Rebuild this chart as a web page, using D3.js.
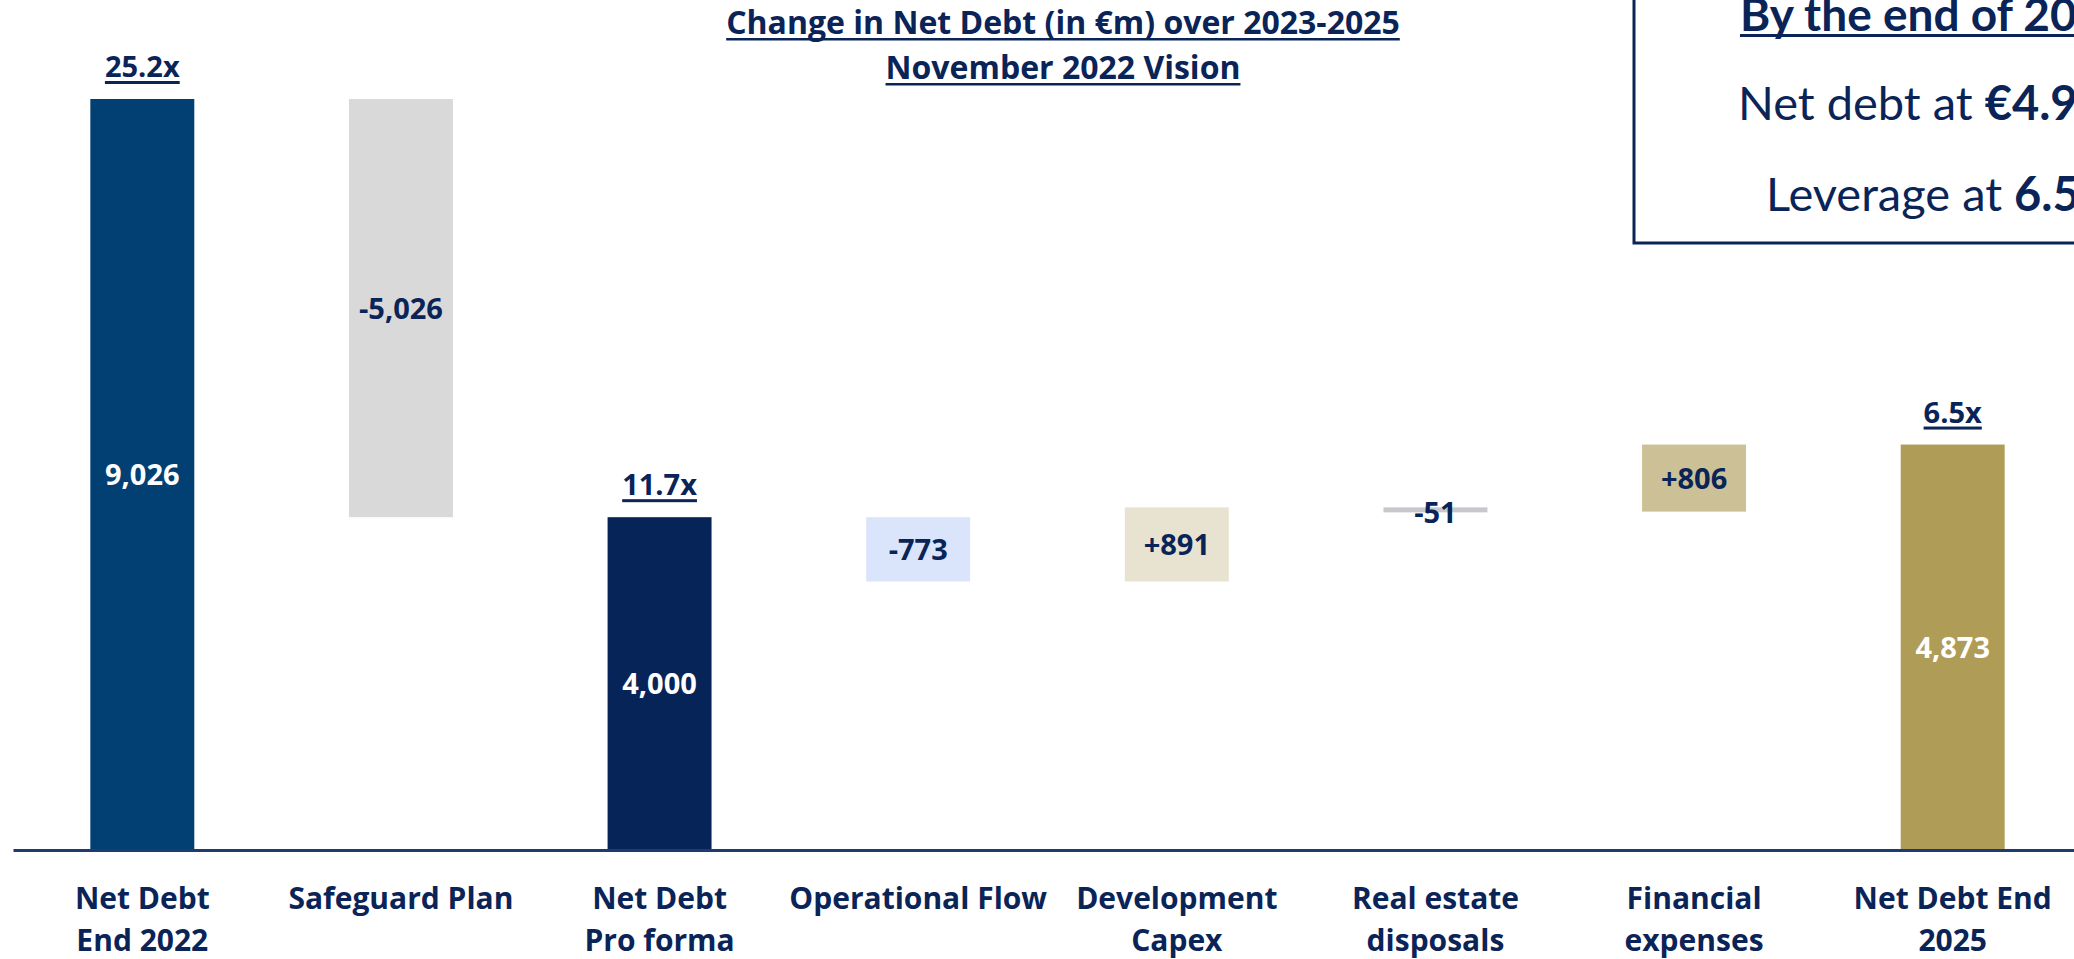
<!DOCTYPE html>
<html>
<head>
<meta charset="utf-8">
<script src="https://cdn.jsdelivr.net/npm/d3@7"></script>
<style>
  body { margin: 0; background: #fff; overflow: hidden; }
  svg { display: block; }
  .cond { font-family: 'Open Sans', sans-serif; font-weight: bold; }
  .box-text { font-family: Lato, 'Noto Sans', sans-serif; }
</style>
</head>
<body>
<svg id="chart" width="2074" height="959"></svg>
<script>
// waterfall steps, €m
var categories = [
  'Net Debt|End 2022', 'Safeguard Plan', 'Net Debt|Pro forma', 'Operational Flow',
  'Development|Capex', 'Real estate|disposals', 'Financial|expenses', 'Net Debt End|2025'
];
var values = [9026, -5026, 4000, -773, 891, -51, 806, 4873];
var isTotal = [true, false, true, false, false, false, false, true];
var leverage = ['25.2x', null, '11.7x', null, null, null, null, '6.5x'];

var titleLines = ['Change in Net Debt (in €m) over 2023-2025', 'November 2022 Vision'];
var boxLines = ['By the end of 2025', 'Net debt at ', '€4.9bn', 'Leverage at ', '6.5x'];

var barColors = ['#024073', '#d9d9d9', '#072458', '#dae5fb', '#e8e3d1', '#c8c8cc', '#ccc196', '#af9c57'];
var labelColors = ['#fff', '#0a2458', '#fff', '#0a2458', '#0a2458', '#0a2458', '#0a2458', '#fff'];
var navy = '#0a2458';

var width = 2074;
var height = 959;
var axisY = 850;

var loc = d3.formatLocale({decimal: '.', thousands: ',', grouping: [3], currency: ['', ''], minus: '-'});
var fmtTotal = loc.format(',');
var fmtDelta = loc.format('+,');

// running totals -> [lo, hi] for every bar
var running = 0;
var steps = values.map(function(v, i) {
  var s;
  if (isTotal[i]) {
    running = v;
    s = {lo: 0, hi: v};
  } else {
    s = {lo: Math.min(running, running + v), hi: Math.max(running, running + v)};
    running += v;
  }
  s.i = i;
  s.value = v;
  s.label = isTotal[i] ? fmtTotal(v) : fmtDelta(v);
  s.lev = leverage[i];
  return s;
});

var svg = d3.select('#chart');

// thick underline drawn under a text node
function underline(sel, offset, thick) {
  sel.each(function() {
    var t = d3.select(this);
    var w = this.getComputedTextLength();
    var anchor = t.attr('text-anchor') || 'start';
    var x0 = +t.attr('x');
    if (anchor === 'middle') x0 -= w / 2;
    d3.select(this.parentNode).append('rect')
      .attr('x', x0)
      .attr('y', +t.attr('y') + offset)
      .attr('width', w)
      .attr('height', thick)
      .attr('fill', t.attr('fill'));
  });
}

var x = d3.scaleBand()
    .domain(d3.range(categories.length))
    .range([13, 2082])
    .paddingInner(0.598)
    .paddingOuter(0.299);

var y = d3.scaleLinear()
    .domain([0, 9026])
    .range([axisY, 99]);

var bars = svg.append('g').selectAll('g')
  .data(steps)
  .enter().append('g');

bars.append('rect')
    .attr('x', function(d) { return x(d.i); })
    .attr('width', x.bandwidth())
    .attr('y', function(d) { return y(d.hi); })
    .attr('height', function(d) { return Math.max(y(d.lo) - y(d.hi), 5); })
    .attr('fill', function(d) { return barColors[d.i]; });

bars.append('text')
    .attr('class', 'cond')
    .attr('x', function(d) { return x(d.i) + x.bandwidth() / 2; })
    .attr('y', function(d) { return (y(d.lo) + y(d.hi)) / 2 + (d.i === 5 ? 3 : 0); })
    .attr('dy', '0.36em')
    .attr('text-anchor', 'middle')
    .attr('font-size', 29)
    .attr('fill', function(d) { return labelColors[d.i]; })
    .text(function(d) { return d.label; });

bars.filter(function(d) { return d.lev; }).append('text')
    .attr('class', 'cond')
    .attr('x', function(d) { return x(d.i) + x.bandwidth() / 2; })
    .attr('y', function(d) { return y(d.hi) - 22; })
    .attr('text-anchor', 'middle')
    .attr('font-size', 29)
    .attr('fill', navy)
    .text(function(d) { return d.lev; })
    .call(underline, 4, 3);

// axis: plain domain line, two-line category labels
var axis = svg.append('g')
    .attr('transform', 'translate(0,' + axisY + ')')
    .call(d3.axisBottom(x).tickSize(0).tickSizeOuter(0).tickFormat(function(i) { return categories[i]; }));

axis.select('.domain')
    .attr('stroke', '#1f3a6e')
    .attr('stroke-width', 3);

axis.selectAll('.tick text').each(function(i) {
  var t = d3.select(this);
  var parts = categories[i].split('|');
  t.text(null)
    .attr('class', 'cond')
    .attr('y', 0)
    .attr('dy', null)
    .attr('font-size', 30)
    .attr('fill', navy);
  parts.forEach(function(p, k) {
    t.append('tspan')
      .attr('x', 0)
      .attr('y', 59 + k * 42)
      .text(p);
  });
});
axis.attr('font-family', null).attr('font-size', null);

// title
svg.append('g').selectAll('text')
  .data(titleLines)
  .enter().append('text')
    .attr('class', 'cond')
    .attr('x', 1063)
    .attr('y', function(d, i) { return 34 + i * 45; })
    .attr('text-anchor', 'middle')
    .attr('font-size', 32)
    .attr('fill', navy)
    .text(function(d) { return d; })
    .call(underline, 4, 2.5);

// call-out box, running off the right edge
var box = svg.append('g');
box.append('rect')
    .attr('x', 1634)
    .attr('y', -10)
    .attr('width', 600)
    .attr('height', 253)
    .attr('fill', '#fff')
    .attr('stroke', navy)
    .attr('stroke-width', 3);

box.append('text')
    .attr('class', 'box-text')
    .attr('x', 1740)
    .attr('y', 31)
    .attr('font-size', 46)
    .attr('font-weight', 'bold')
    .attr('fill', navy)
    .text(boxLines[0])
    .call(underline, 3, 3);

var l2 = box.append('text')
    .attr('class', 'box-text')
    .attr('x', 1738)
    .attr('y', 120)
    .attr('font-size', 47)
    .attr('fill', navy);
l2.append('tspan').text(boxLines[1]);
l2.append('tspan').attr('font-weight', 'bold').text(boxLines[2]);

var l3 = box.append('text')
    .attr('class', 'box-text')
    .attr('x', 1766)
    .attr('y', 211)
    .attr('font-size', 47)
    .attr('fill', navy);
l3.append('tspan').text(boxLines[3]);
l3.append('tspan').attr('font-weight', 'bold').text(boxLines[4]);
</script>
</body>
</html>
